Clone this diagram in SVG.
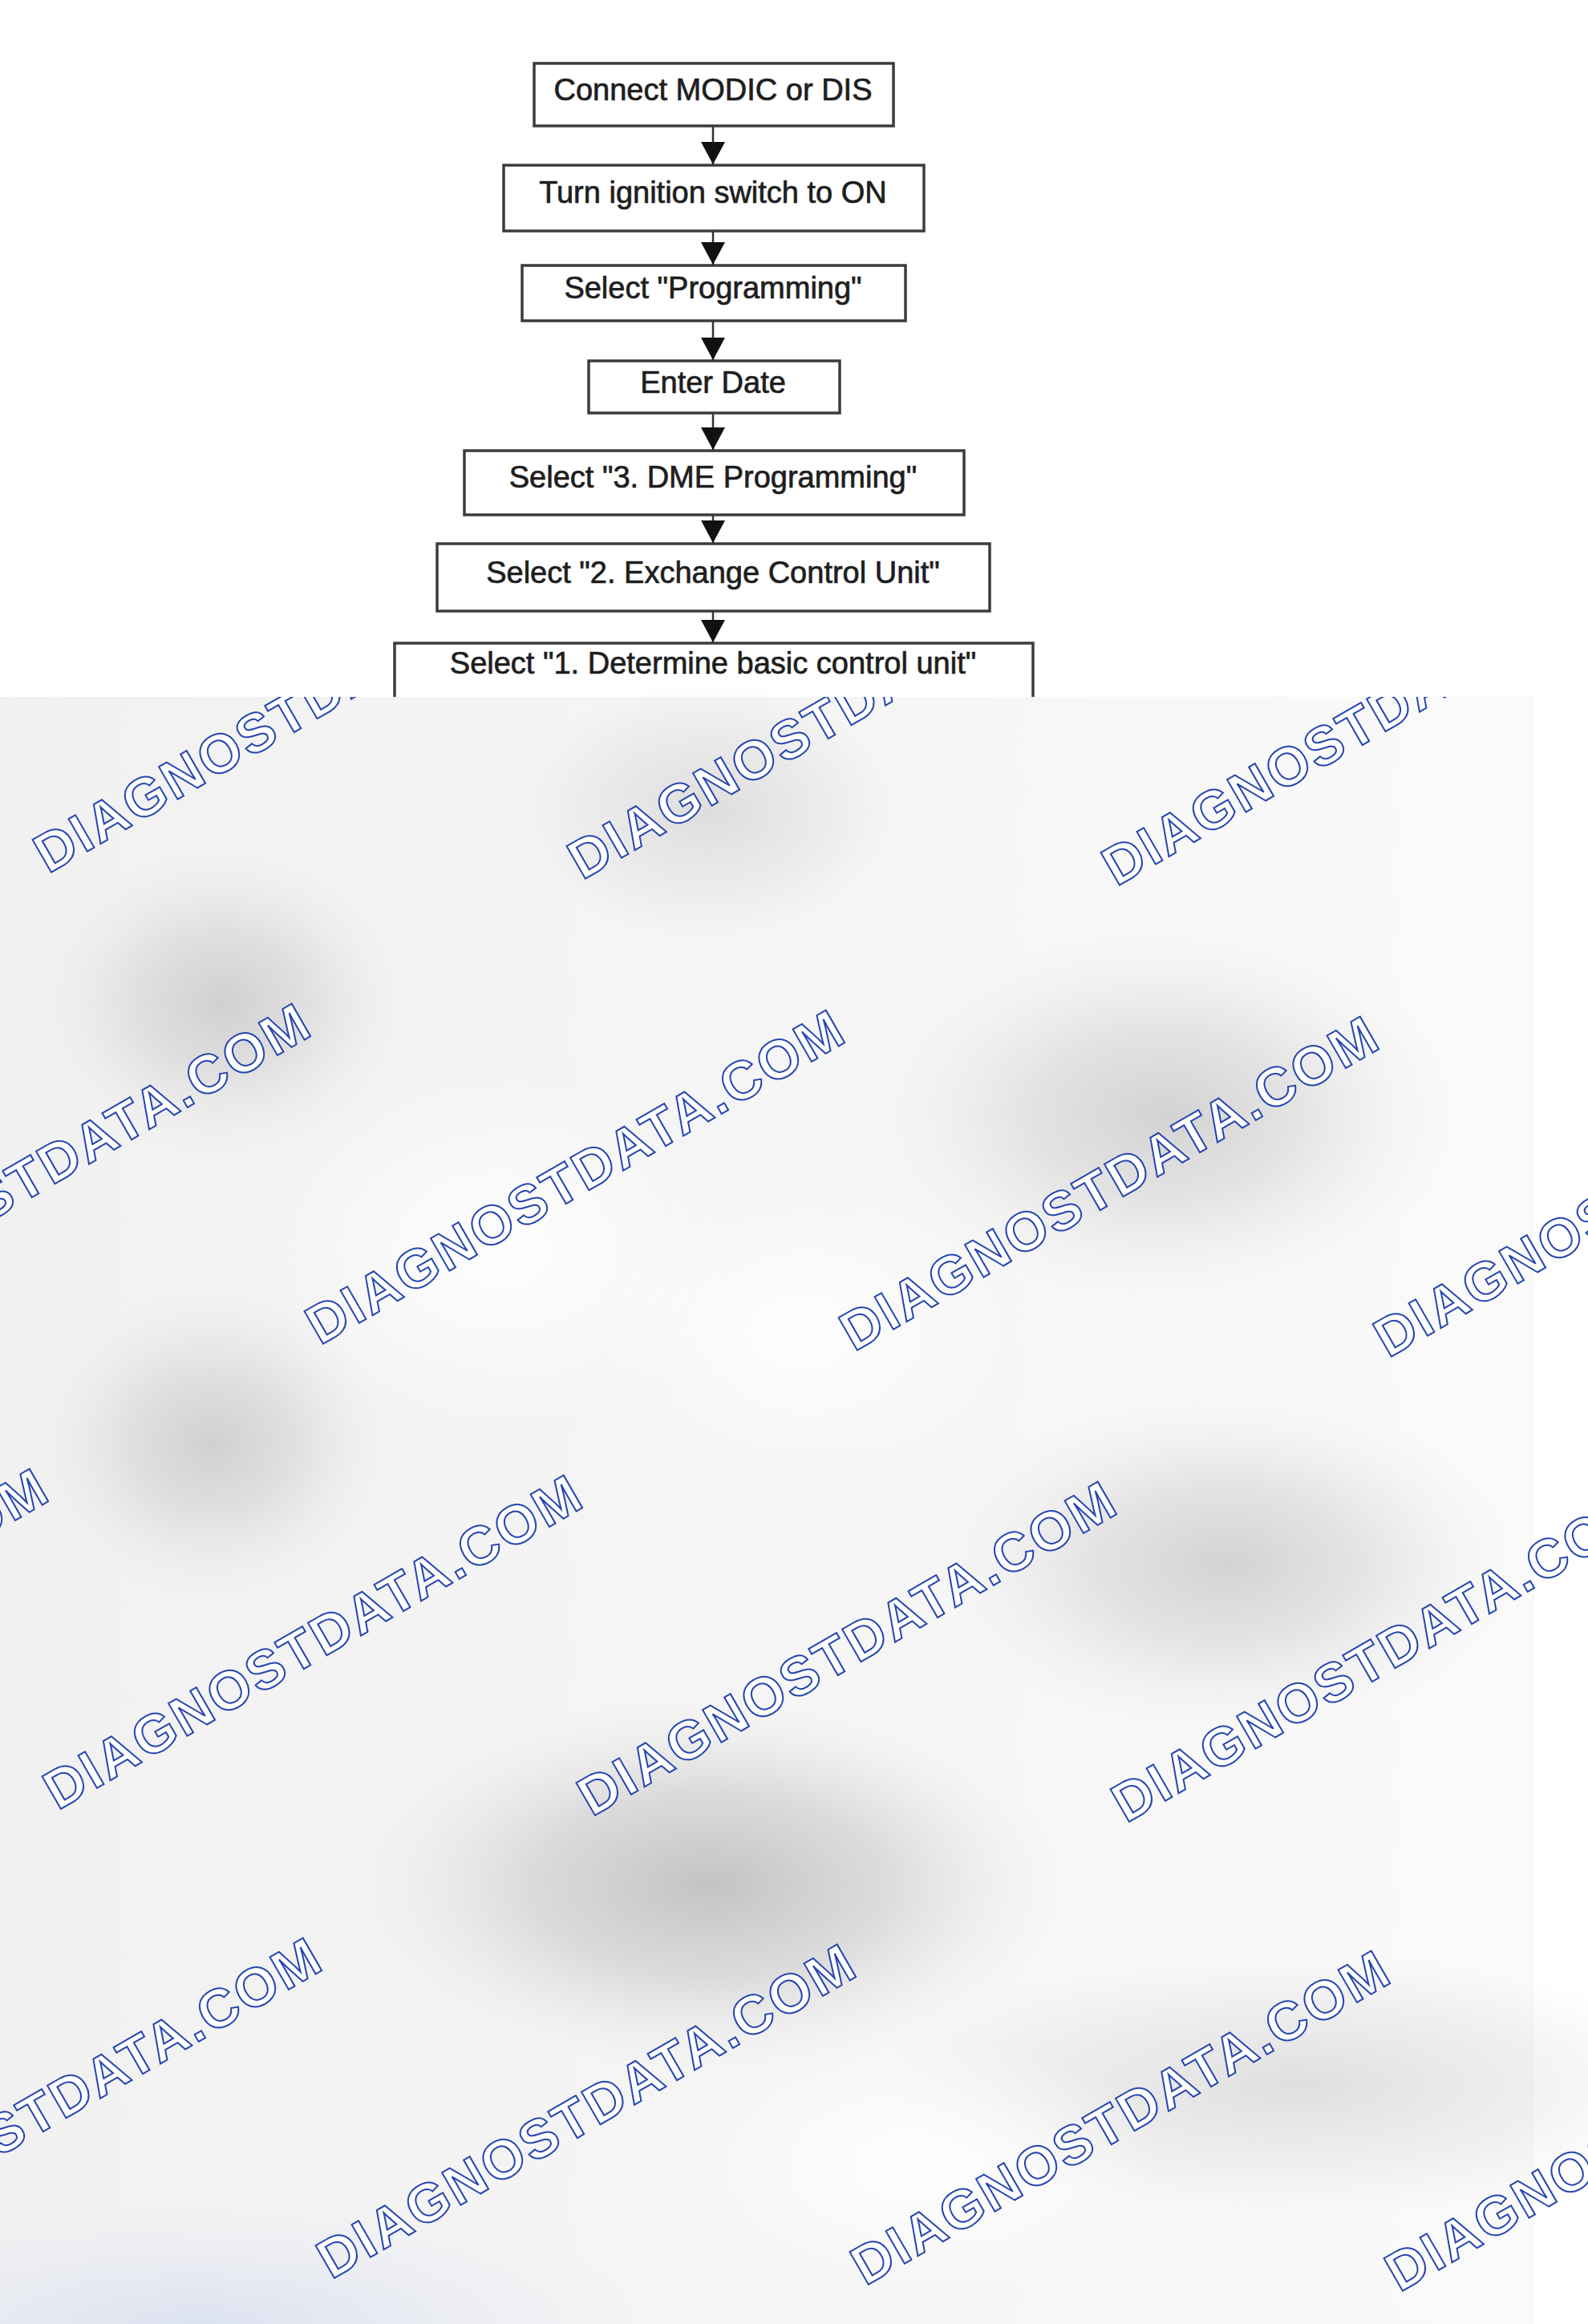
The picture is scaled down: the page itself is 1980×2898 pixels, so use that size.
<svg xmlns="http://www.w3.org/2000/svg" width="1980" height="2898" viewBox="0 0 1980 2898">
<style>
.box{fill:#ffffff;stroke:#3c3c3c;stroke-width:3.5}
.lbl{font-family:"Liberation Sans",Arial,sans-serif;font-size:38px;fill:#1e1e1e;stroke:#1e1e1e;stroke-width:0.7;text-anchor:middle}
.conn{stroke:#333333;stroke-width:2.5;fill:none}
.wm{font-family:"Liberation Sans",Arial,sans-serif;font-weight:bold;font-size:68px;fill:#ffffff;stroke:#2545b0;stroke-width:2}
</style>
<defs>
<marker id="ah" markerUnits="userSpaceOnUse" markerWidth="28" markerHeight="30" refX="28" refY="15" orient="auto" viewBox="0 0 28 30">
<path d="M0,0 L0,30 L28,15 Z" fill="#111111"/>
</marker>
<linearGradient id="base" x1="0" y1="0" x2="1" y2="0">
<stop offset="0" stop-color="#f1f1f1"/>
<stop offset="0.6" stop-color="#f6f6f6"/>
<stop offset="1" stop-color="#fafafa"/>
</linearGradient>
<radialGradient id="g1"><stop offset="0" stop-color="#b4b4b4" stop-opacity="0.55"/><stop offset="0.45" stop-color="#bcbcbc" stop-opacity="0.35"/><stop offset="0.8" stop-color="#c8c8c8" stop-opacity="0.1"/><stop offset="1" stop-color="#c8c8c8" stop-opacity="0"/></radialGradient>
<radialGradient id="g2"><stop offset="0" stop-color="#b8b8b8" stop-opacity="0.4"/><stop offset="0.6" stop-color="#c4c4c4" stop-opacity="0.2"/><stop offset="1" stop-color="#c8c8c8" stop-opacity="0"/></radialGradient>
<radialGradient id="g3"><stop offset="0" stop-color="#a8a8a8" stop-opacity="0.65"/><stop offset="0.5" stop-color="#b4b4b4" stop-opacity="0.4"/><stop offset="0.85" stop-color="#c8c8c8" stop-opacity="0.1"/><stop offset="1" stop-color="#c8c8c8" stop-opacity="0"/></radialGradient>
<radialGradient id="gw"><stop offset="0" stop-color="#ffffff" stop-opacity="0.9"/><stop offset="1" stop-color="#ffffff" stop-opacity="0"/></radialGradient>
<radialGradient id="gb"><stop offset="0" stop-color="#d9e0f0" stop-opacity="0.9"/><stop offset="1" stop-color="#e4e8f3" stop-opacity="0"/></radialGradient>
<clipPath id="lower"><rect x="0" y="869" width="1980" height="2029"/></clipPath>
</defs>

<rect x="0" y="0" width="1980" height="2898" fill="#ffffff"/>

<g id="flowchart">
<g id="n1"><rect class="box" x="666" y="79" width="448" height="78"/><text class="lbl" x="889" y="125">Connect MODIC or DIS</text></g>
<g id="n2"><rect class="box" x="628" y="206" width="524" height="82"/><text class="lbl" x="889" y="253">Turn ignition switch to ON</text></g>
<g id="n3"><rect class="box" x="651" y="331" width="478" height="69"/><text class="lbl" x="889" y="372">Select "Programming"</text></g>
<g id="n4"><rect class="box" x="734" y="450" width="313" height="65"/><text class="lbl" x="889" y="490">Enter Date</text></g>
<g id="n5"><rect class="box" x="579" y="562" width="623" height="80"/><text class="lbl" x="889" y="608">Select "3. DME Programming"</text></g>
<g id="n6"><rect class="box" x="545" y="678" width="689" height="84"/><text class="lbl" x="889" y="727">Select "2. Exchange Control Unit"</text></g>
<g id="n7"><rect class="box" x="492" y="802" width="796" height="83"/><text class="lbl" x="889" y="840">Select "1. Determine basic control unit"</text></g>
</g>

<g id="connectors">
<line class="conn" x1="889" y1="157" x2="889" y2="205" marker-end="url(#ah)"/>
<line class="conn" x1="889" y1="288" x2="889" y2="330" marker-end="url(#ah)"/>
<line class="conn" x1="889" y1="400" x2="889" y2="449" marker-end="url(#ah)"/>
<line class="conn" x1="889" y1="515" x2="889" y2="561" marker-end="url(#ah)"/>
<line class="conn" x1="889" y1="642" x2="889" y2="677" marker-end="url(#ah)"/>
<line class="conn" x1="889" y1="762" x2="889" y2="801" marker-end="url(#ah)"/>
</g>

<g id="background">
<rect x="0" y="869" width="1913" height="2029" fill="url(#base)"/>
<ellipse cx="278" cy="1250" rx="230" ry="190" fill="url(#g1)"/>
<ellipse cx="884" cy="1010" rx="240" ry="160" fill="url(#g2)"/>
<ellipse cx="1452" cy="1390" rx="360" ry="230" fill="url(#g1)"/>
<ellipse cx="265" cy="1800" rx="220" ry="190" fill="url(#g1)"/>
<ellipse cx="1530" cy="1950" rx="360" ry="210" fill="url(#g1)"/>
<ellipse cx="884" cy="2350" rx="440" ry="230" fill="url(#g3)"/>
<ellipse cx="1620" cy="2600" rx="520" ry="160" fill="url(#g2)"/>
<ellipse cx="620" cy="1560" rx="300" ry="220" fill="url(#gw)"/>
<ellipse cx="1000" cy="1660" rx="260" ry="180" fill="url(#gw)"/>
<ellipse cx="1150" cy="2700" rx="300" ry="160" fill="url(#gw)"/>
<ellipse cx="250" cy="2898" rx="560" ry="150" fill="url(#gb)"/>
</g>

<g id="watermarks" clip-path="url(#lower)">
<text class="wm" textLength="760" lengthAdjust="spacing" transform="translate(-606 1082) rotate(-30)">DIAGNOSTDATA.COM</text>
<text class="wm" textLength="760" lengthAdjust="spacing" transform="translate(60 1090) rotate(-30)">DIAGNOSTDATA.COM</text>
<text class="wm" textLength="760" lengthAdjust="spacing" transform="translate(726 1098) rotate(-30)">DIAGNOSTDATA.COM</text>
<text class="wm" textLength="760" lengthAdjust="spacing" transform="translate(1392 1106) rotate(-30)">DIAGNOSTDATA.COM</text>
<text class="wm" textLength="760" lengthAdjust="spacing" transform="translate(-267 1670) rotate(-30)">DIAGNOSTDATA.COM</text>
<text class="wm" textLength="760" lengthAdjust="spacing" transform="translate(399 1678) rotate(-30)">DIAGNOSTDATA.COM</text>
<text class="wm" textLength="760" lengthAdjust="spacing" transform="translate(1065 1686) rotate(-30)">DIAGNOSTDATA.COM</text>
<text class="wm" textLength="760" lengthAdjust="spacing" transform="translate(1731 1694) rotate(-30)">DIAGNOSTDATA.COM</text>
<text class="wm" textLength="760" lengthAdjust="spacing" transform="translate(-594 2250) rotate(-30)">DIAGNOSTDATA.COM</text>
<text class="wm" textLength="760" lengthAdjust="spacing" transform="translate(72 2258) rotate(-30)">DIAGNOSTDATA.COM</text>
<text class="wm" textLength="760" lengthAdjust="spacing" transform="translate(738 2266) rotate(-30)">DIAGNOSTDATA.COM</text>
<text class="wm" textLength="760" lengthAdjust="spacing" transform="translate(1404 2274) rotate(-30)">DIAGNOSTDATA.COM</text>
<text class="wm" textLength="760" lengthAdjust="spacing" transform="translate(-253 2835) rotate(-30)">DIAGNOSTDATA.COM</text>
<text class="wm" textLength="760" lengthAdjust="spacing" transform="translate(413 2843) rotate(-30)">DIAGNOSTDATA.COM</text>
<text class="wm" textLength="760" lengthAdjust="spacing" transform="translate(1079 2851) rotate(-30)">DIAGNOSTDATA.COM</text>
<text class="wm" textLength="760" lengthAdjust="spacing" transform="translate(1745 2859) rotate(-30)">DIAGNOSTDATA.COM</text>
</g>
</svg>
